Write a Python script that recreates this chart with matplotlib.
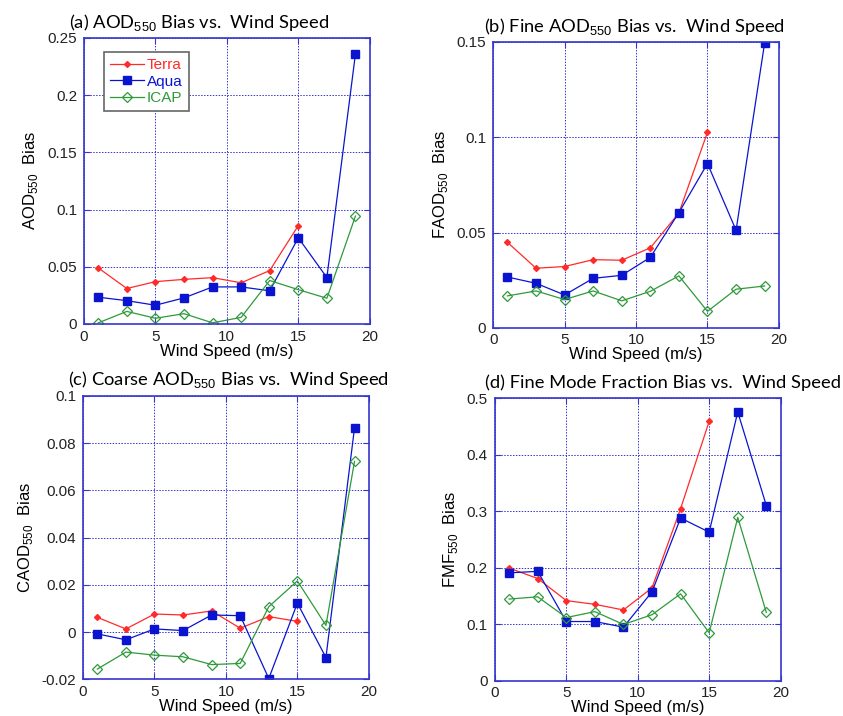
import numpy as np
import matplotlib
matplotlib.use("Agg")
import matplotlib.pyplot as plt
from matplotlib.ticker import FuncFormatter, MultipleLocator

plt.rcParams["font.family"] = ["Liberation Sans", "DejaVu Sans"]
plt.rcParams["axes.unicode_minus"] = False
plt.rcParams["mathtext.fontset"] = "custom"
plt.rcParams["mathtext.rm"] = "Liberation Sans"

# wind speed bins (m/s)
wind = [1, 3, 5, 7, 9, 11, 13, 15, 17, 19]
wind_terra = wind[:8]

# (a) AOD550 bias
aod_terra = [0.049, 0.031, 0.037, 0.039, 0.0405, 0.036, 0.0467, 0.086]
aod_aqua = [0.0234, 0.0204, 0.0164, 0.0228, 0.0324, 0.0324, 0.029, 0.0753, 0.0406, 0.236]
aod_icap = [0.001, 0.011, 0.005, 0.009, 0.001, 0.0058, 0.038, 0.030, 0.0225, 0.0943]

# (b) fine AOD550 bias
faod_terra = [0.0449, 0.0313, 0.0322, 0.0358, 0.0355, 0.042, 0.0603, 0.1026]
faod_aqua = [0.0267, 0.0234, 0.0173, 0.026, 0.0276, 0.037, 0.0605, 0.0862, 0.0512, 0.1495]
faod_icap = [0.0168, 0.0194, 0.0149, 0.0194, 0.0142, 0.0192, 0.0273, 0.0087, 0.0203, 0.022]

# (c) coarse AOD550 bias
caod_terra = [0.0063, 0.0014, 0.0077, 0.0073, 0.009, 0.0017, 0.0066, 0.0046]
caod_aqua = [-0.0007, -0.0032, 0.0014, 0.0007, 0.0073, 0.007, -0.0196, 0.0123, -0.0107, 0.0865]
caod_icap = [-0.0156, -0.0084, -0.0097, -0.0104, -0.0137, -0.0132, 0.0108, 0.0217, 0.0029, 0.0723]

# (d) fine mode fraction bias
fmf_terra = [0.1995, 0.181, 0.142, 0.1354, 0.1254, 0.1645, 0.3045, 0.459]
fmf_aqua = [0.191, 0.1937, 0.105, 0.105, 0.095, 0.1575, 0.288, 0.263, 0.4755, 0.310]
fmf_icap = [0.1447, 0.1487, 0.112, 0.1225, 0.0998, 0.117, 0.154, 0.085, 0.289, 0.121]

TERRA = "#ff2a2a"
AQUA = "#0a14d0"
ICAP = "#2e9a3a"
FRAME = "#3535d0"

panels = [
    # rect, title, title pos, ylabel, ylim, ystep, data
    ([0.0996, 0.5475, 0.339, 0.3995], "(a) AOD$_{550}$ Bias vs.  Wind Speed", (0.236, 0.969),
     "AOD$_{550}$  Bias", (0, 0.25), 0.05, (aod_terra, aod_aqua, aod_icap)),
    ([0.585, 0.542, 0.339, 0.3995], "(b) Fine AOD$_{550}$ Bias vs.  Wind Speed", (0.752, 0.963),
     "FAOD$_{550}$  Bias", (0, 0.15), 0.05, (faod_terra, faod_aqua, faod_icap)),
    ([0.0985, 0.051, 0.339, 0.396], "(c) Coarse AOD$_{550}$ Bias vs.  Wind Speed", (0.271, 0.470),
     "CAOD$_{550}$  Bias", (-0.02, 0.1), 0.02, (caod_terra, caod_aqua, caod_icap)),
    ([0.587, 0.049, 0.339, 0.395], "(d) Fine Mode Fraction Bias vs.  Wind Speed", (0.786, 0.466),
     "FMF$_{550}$  Bias", (0, 0.5), 0.1, (fmf_terra, fmf_aqua, fmf_icap)),
]

fig = plt.figure(figsize=(8.43, 7.16), dpi=100)

for i, (rect, title, tpos, ylab, ylim, ystep, (terra, aqua, icap)) in enumerate(panels):
    ax = fig.add_axes(rect)
    ax.plot(wind_terra, terra, color=TERRA, lw=0.9, marker="D", ms=3, label="Terra")
    ax.plot(wind, aqua, color=AQUA, lw=0.9, marker="s", ms=5.5, label="Aqua")
    ax.plot(wind, icap, color=ICAP, lw=0.9, marker="D", ms=5.5, mfc="none", mew=0.9, label="ICAP")

    ax.set_xlim(0, 20)
    ax.set_ylim(*ylim)
    ax.xaxis.set_major_locator(MultipleLocator(5))
    ax.yaxis.set_major_locator(MultipleLocator(ystep))
    ax.yaxis.set_major_formatter(FuncFormatter(lambda v, p: "%g" % round(v, 4)))
    ax.grid(True, color=FRAME, linestyle=(0, (1.5, 1.5)), linewidth=0.7)
    for s in ax.spines.values():
        s.set_color(FRAME)
        s.set_linewidth(1.2)
    ax.tick_params(direction="in", colors=FRAME, labelcolor="#222222", labelsize=11,
                   top=True, right=True, length=4, pad=5)
    ax.tick_params(axis="x", pad=4)
    ax.set_xlabel("Wind Speed (m/s)", fontsize=12, labelpad=0)
    ax.set_ylabel(ylab, fontsize=12, labelpad=5)
    fig.text(tpos[0], tpos[1], title, ha="center", va="center", fontsize=13.2,
             family=["Lato", "DejaVu Sans"])

    if i == 0:
        leg = ax.legend(loc="upper left", bbox_to_anchor=(0.07, 0.95), fontsize=11,
                        fancybox=False, edgecolor="#666666", framealpha=1,
                        handlelength=2.2, handletextpad=0.2, borderpad=0.4,
                        labelspacing=0.15, borderaxespad=0)
        leg.get_frame().set_linewidth(1.2)
        for txt, c in zip(leg.get_texts(), [TERRA, AQUA, ICAP]):
            txt.set_color(c)

fig.savefig("out.png", dpi=100)
